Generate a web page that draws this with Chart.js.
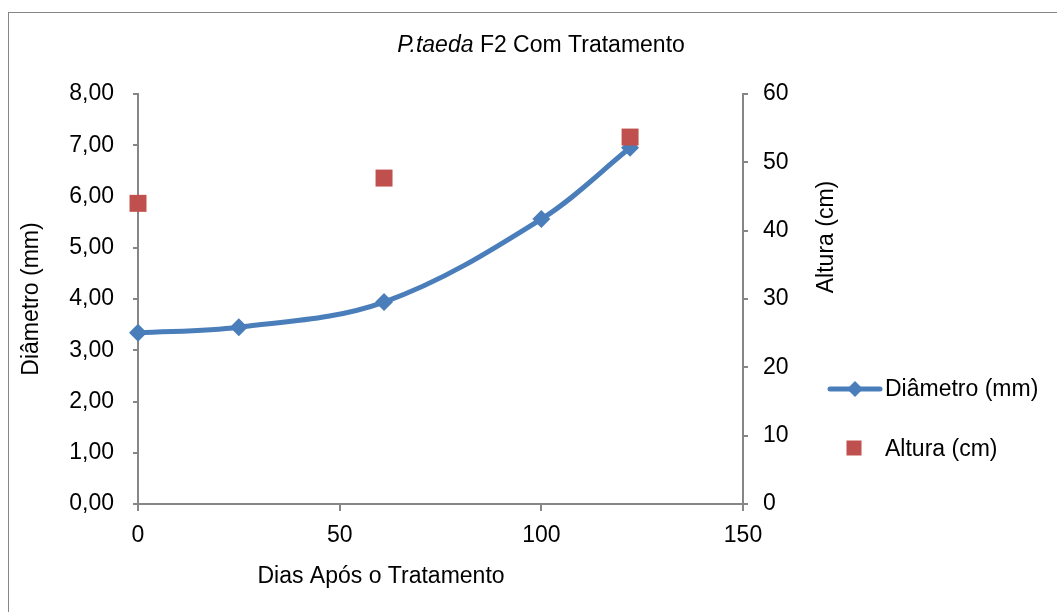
<!DOCTYPE html>
<html>
<head>
<meta charset="utf-8">
<script src="https://cdn.jsdelivr.net/npm/chart.js@4"></script>
<style>
    body { margin: 0; background: #fff; overflow: hidden; }
    #frame { position: absolute; left: 8px; top: 12px; width: 1200px; height: 800px;
             border-left: 1px solid #868686; border-top: 1px solid #868686; }
    #chart { position: absolute; left: 0; top: 0; }
</style>
</head>
<body>
<div id="frame"></div>
<canvas id="chart" width="1057" height="612"></canvas>
<script>
// Data
const diamDays = [0, 25, 61, 100, 122];
const diamValues = [3.34, 3.45, 3.94, 5.56, 6.95];
const alturaDays = [0, 61, 122];
const alturaValues = [44.0, 47.7, 53.7];

const leftTickLabels = ['0,00', '1,00', '2,00', '3,00', '4,00', '5,00', '6,00', '7,00', '8,00'];
const rightTickLabels = ['0', '10', '20', '30', '40', '50', '60'];
const xTickLabels = ['0', '50', '100', '150'];

const titleItalic = 'P.taeda';
const titleRest = ' F2 Com Tratamento';
const xTitle = 'Dias Após o Tratamento';
const rightTitle = 'Altura (cm)';
const diamLabel = 'Diâmetro (mm)';
const alturaLabel = 'Altura (cm)';

const blue = '#4a7ebb';
const red = '#c0504d';
const axisGray = '#868686';
const fontFamily = '"Liberation Sans", Arial, sans-serif';
const fontSize = 23;

// title, right axis title, x title and legend drawn by hand
const extrasPlugin = {
    id: 'extras',
    afterDraw(chart) {
        const ctx = chart.ctx;
        ctx.save();
        ctx.fillStyle = '#000';
        ctx.textBaseline = 'middle';

        // chart title with italic species name
        ctx.font = 'italic ' + fontSize + 'px ' + fontFamily;
        const w1 = ctx.measureText(titleItalic).width;
        ctx.font = fontSize + 'px ' + fontFamily;
        const w2 = ctx.measureText(titleRest).width;
        let tx = 541 - (w1 + w2) / 2;
        ctx.textAlign = 'left';
        ctx.font = 'italic ' + fontSize + 'px ' + fontFamily;
        ctx.fillText(titleItalic, tx, 46);
        ctx.font = fontSize + 'px ' + fontFamily;
        ctx.fillText(titleRest, tx + w1, 46);

        // x axis title
        ctx.textAlign = 'center';
        ctx.fillText(xTitle, 381, 577);

        // right axis title, reading upwards
        ctx.save();
        ctx.translate(827, 237);
        ctx.rotate(-Math.PI / 2);
        ctx.fillText(rightTitle, 0, 0);
        ctx.restore();

        // legend
        ctx.strokeStyle = blue;
        ctx.lineWidth = 5;
        ctx.lineCap = 'round';
        ctx.beginPath();
        ctx.moveTo(830, 389);
        ctx.lineTo(880, 389);
        ctx.stroke();
        ctx.fillStyle = blue;
        ctx.beginPath();
        ctx.moveTo(855 - 8, 389);
        ctx.lineTo(855, 389 - 8);
        ctx.lineTo(855 + 8, 389);
        ctx.lineTo(855, 389 + 8);
        ctx.closePath();
        ctx.fill();
        ctx.fillStyle = red;
        ctx.fillRect(854 - 7.5, 448 - 7.5, 15, 15);

        ctx.fillStyle = '#000';
        ctx.textAlign = 'left';
        ctx.fillText(diamLabel, 885, 390);
        ctx.fillText(alturaLabel, 885, 450);
        ctx.restore();
    }
};

new Chart(document.getElementById('chart'), {
    type: 'line',
    data: {
        datasets: [{
            label: diamLabel,
            data: diamDays.map((d, i) => ({ x: d, y: diamValues[i] })),
            borderColor: blue,
            backgroundColor: blue,
            borderWidth: 5,
            tension: 0.35,
            pointStyle: 'rectRot',
            pointRadius: 9,
            pointBorderWidth: 0,
            clip: false,
            yAxisID: 'y',
            order: 1
        }, {
            label: alturaLabel,
            data: alturaDays.map((d, i) => ({ x: d, y: alturaValues[i] })),
            showLine: false,
            borderColor: red,
            backgroundColor: red,
            pointStyle: 'rect',
            pointRadius: 12,
            pointBorderWidth: 0,
            clip: false,
            yAxisID: 'y2',
            order: 0
        }]
    },
    options: {
        responsive: false,
        animation: false,
        layout: { padding: { left: 15, right: 214, top: 94, bottom: 58 } },
        plugins: {
            legend: { display: false },
            tooltip: { enabled: false }
        },
        scales: {
            x: {
                type: 'linear',
                min: 0,
                max: 150,
                afterBuildTicks: (s) => { s.ticks = xTickLabels.map(t => ({ value: Number(t) })); },
                afterFit: (s) => { s.height = 50; },
                ticks: {
                    callback: (v, i) => xTickLabels[i],
                    color: '#000',
                    padding: 11,
                    font: { family: fontFamily, size: fontSize }
                },
                grid: { drawOnChartArea: false, drawTicks: true, tickLength: 7, color: axisGray, lineWidth: 2 },
                border: { color: axisGray, width: 2 }
            },
            y: {
                position: 'left',
                min: 0,
                max: 8,
                afterBuildTicks: (s) => { s.ticks = leftTickLabels.map((t, i) => ({ value: i })); },
                afterFit: (s) => { s.width = 123; },
                ticks: {
                    callback: (v, i) => leftTickLabels[i],
                    color: '#000',
                    padding: 19,
                    font: { family: fontFamily, size: fontSize }
                },
                title: {
                    display: true,
                    text: diamLabel,
                    color: '#000',
                    padding: { top: 3, bottom: 3 },
                    font: { family: fontFamily, size: fontSize }
                },
                grid: { drawOnChartArea: false, drawTicks: true, tickLength: 5, color: axisGray, lineWidth: 2 },
                border: { color: axisGray, width: 2 }
            },
            y2: {
                position: 'right',
                min: 0,
                max: 60,
                afterBuildTicks: (s) => { s.ticks = rightTickLabels.map(t => ({ value: Number(t) })); },
                afterFit: (s) => { s.width = 100; },
                ticks: {
                    callback: (v, i) => rightTickLabels[i],
                    color: '#000',
                    padding: 15,
                    font: { family: fontFamily, size: fontSize }
                },
                grid: { drawOnChartArea: false, drawTicks: true, tickLength: 5, color: axisGray, lineWidth: 2 },
                border: { color: axisGray, width: 2 }
            }
        }
    },
    plugins: [extrasPlugin]
});
</script>
</body>
</html>
